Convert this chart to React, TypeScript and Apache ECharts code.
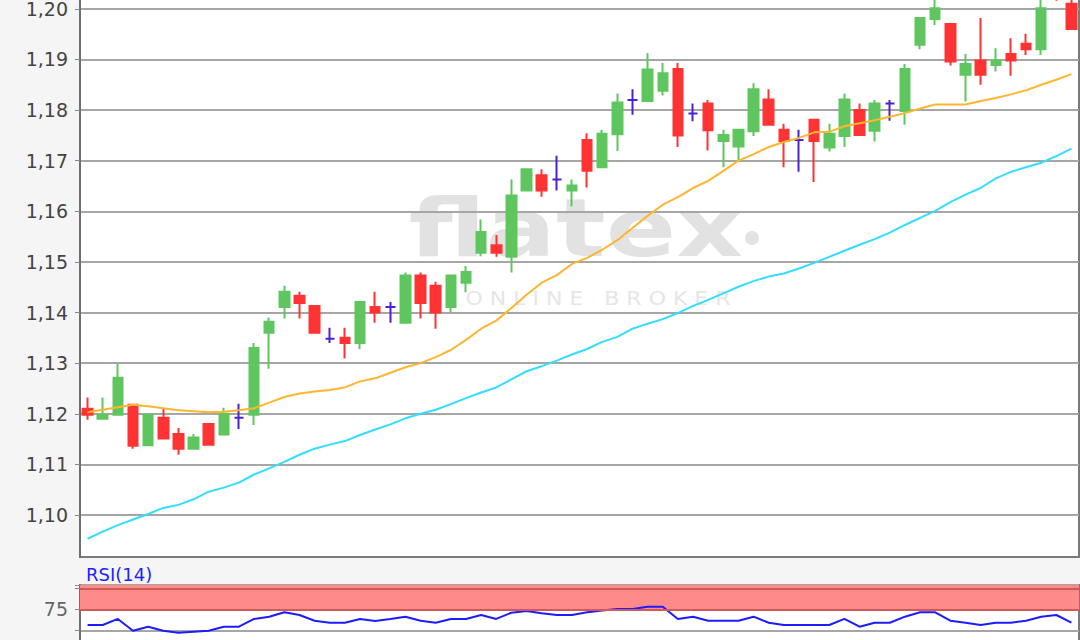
import React, { useEffect, useRef } from 'react';
import * as echarts from 'echarts';

const categories: string[] = Array.from({ length: 66 }, (_, i) => `T${i + 1}`);

const opens = [1.1210, 1.1190, 1.1198, 1.1218, 1.1138, 1.1192, 1.1160, 1.1131, 1.1180, 1.1159, 1.1192, 1.1198, 1.1360, 1.1411, 1.1433, 1.1413, 1.1348, 1.1350, 1.1340, 1.1411, 1.1411, 1.1380, 1.1473, 1.1453, 1.1411, 1.1459, 1.1518, 1.1533, 1.1510, 1.1641, 1.1671, 1.1663, 1.1641, 1.1741, 1.1687, 1.1752, 1.1820, 1.1818, 1.1838, 1.1881, 1.1793, 1.1813, 1.1739, 1.1728, 1.1758, 1.1821, 1.1761, 1.1741, 1.1781, 1.1726, 1.1749, 1.1800, 1.1759, 1.1813, 1.1798, 1.1929, 1.1980, 1.1970, 1.1870, 1.1898, 1.1889, 1.1911, 1.1931, 1.1920, 1.2045, 1.2010];
const closes = [1.1198, 1.1198, 1.1271, 1.1137, 1.1198, 1.1151, 1.1131, 1.1153, 1.1139, 1.1200, 1.1192, 1.1330, 1.1382, 1.1441, 1.1419, 1.1360, 1.1348, 1.1340, 1.1421, 1.1400, 1.1411, 1.1473, 1.1419, 1.1400, 1.1473, 1.1480, 1.1559, 1.1518, 1.1631, 1.1683, 1.1641, 1.1663, 1.1651, 1.1680, 1.1753, 1.1815, 1.1820, 1.1880, 1.1873, 1.1750, 1.1793, 1.1760, 1.1751, 1.1761, 1.1841, 1.1771, 1.1739, 1.1741, 1.1739, 1.1753, 1.1821, 1.1751, 1.1813, 1.1813, 1.1881, 1.1982, 1.2001, 1.1896, 1.1891, 1.1870, 1.1898, 1.1898, 1.1920, 1.2001, 1.2025, 1.1960];
const lows = [1.1188, 1.1189, 1.1198, 1.1131, 1.1138, 1.1151, 1.1119, 1.1131, 1.1139, 1.1159, 1.1170, 1.1178, 1.1289, 1.1388, 1.1388, 1.1360, 1.1340, 1.1309, 1.1328, 1.1380, 1.1380, 1.1380, 1.1388, 1.1368, 1.1400, 1.1440, 1.1511, 1.1510, 1.1479, 1.1641, 1.1629, 1.1641, 1.1610, 1.1647, 1.1687, 1.1719, 1.1791, 1.1818, 1.1829, 1.1727, 1.1778, 1.1720, 1.1687, 1.1700, 1.1749, 1.1771, 1.1687, 1.1678, 1.1658, 1.1718, 1.1727, 1.1751, 1.1738, 1.1779, 1.1771, 1.1920, 1.1968, 1.1888, 1.1817, 1.1850, 1.1876, 1.1868, 1.1909, 1.1909, 1.2016, 1.1960];
const highs = [1.1232, 1.1232, 1.1300, 1.1218, 1.1198, 1.1210, 1.1172, 1.1160, 1.1180, 1.1212, 1.1220, 1.1340, 1.1390, 1.1453, 1.1441, 1.1413, 1.1370, 1.1370, 1.1421, 1.1441, 1.1421, 1.1479, 1.1479, 1.1461, 1.1473, 1.1492, 1.1584, 1.1553, 1.1663, 1.1683, 1.1683, 1.1710, 1.1663, 1.1754, 1.1761, 1.1833, 1.1841, 1.1913, 1.1893, 1.1893, 1.1813, 1.1820, 1.1761, 1.1761, 1.1853, 1.1841, 1.1773, 1.1761, 1.1781, 1.1773, 1.1833, 1.1813, 1.1820, 1.1820, 1.1891, 1.1982, 1.2025, 1.1970, 1.1911, 1.1982, 1.1922, 1.1942, 1.1951, 1.2025, 1.2055, 1.2030];

const maShort = [1.1203, 1.1208, 1.1213, 1.1218, 1.1215, 1.1211, 1.1207, 1.1205, 1.1203, 1.1204, 1.1207, 1.1211, 1.1222, 1.1233, 1.1240, 1.1244, 1.1247, 1.1252, 1.1264, 1.1270, 1.1281, 1.1292, 1.1300, 1.1312, 1.1326, 1.1346, 1.1368, 1.1384, 1.1409, 1.1435, 1.1459, 1.1474, 1.1496, 1.1508, 1.1524, 1.1543, 1.1567, 1.1591, 1.1613, 1.1628, 1.1646, 1.1660, 1.1680, 1.1700, 1.1713, 1.1727, 1.1737, 1.1745, 1.1756, 1.1757, 1.1768, 1.1774, 1.1780, 1.1787, 1.1794, 1.1803, 1.1811, 1.1811, 1.1811, 1.1818, 1.1824, 1.1831, 1.1839, 1.1850, 1.1860, 1.1871];
const maLong = [1.0953, 1.0967, 1.0980, 1.0991, 1.1002, 1.1014, 1.1020, 1.1031, 1.1046, 1.1054, 1.1064, 1.1080, 1.1092, 1.1105, 1.1119, 1.1131, 1.1139, 1.1146, 1.1158, 1.1169, 1.1179, 1.1191, 1.1200, 1.1208, 1.1219, 1.1231, 1.1242, 1.1252, 1.1268, 1.1284, 1.1294, 1.1305, 1.1317, 1.1328, 1.1342, 1.1352, 1.1368, 1.1378, 1.1387, 1.1399, 1.1413, 1.1425, 1.1438, 1.1451, 1.1462, 1.1471, 1.1477, 1.1487, 1.1498, 1.1510, 1.1522, 1.1534, 1.1545, 1.1558, 1.1573, 1.1587, 1.1601, 1.1618, 1.1633, 1.1646, 1.1665, 1.1678, 1.1687, 1.1696, 1.1709, 1.1724];

const rsi = [56.3, 56.3, 63.5, 49.5, 54.3, 49.5, 47.1, 48.3, 49.5, 54.3, 54.3, 63.5, 66.2, 71.4, 68.2, 61.4, 59, 59, 63.5, 61.1, 63.5, 66.2, 61.4, 59, 63.5, 63.5, 68.2, 63.5, 71, 73, 70.2, 68.2, 68.2, 71.4, 73.6, 75.4, 75.4, 78.1, 78.1, 63.5, 66.2, 61.4, 61.4, 61.4, 66.2, 59, 56.3, 56.3, 56.3, 56.3, 63.5, 54.3, 59, 59, 66.2, 71.4, 71.4, 61.4, 59, 56.3, 59, 59, 61.4, 66.2, 68.2, 59];

const priceTicks = [1.10, 1.11, 1.12, 1.13, 1.14, 1.15, 1.16, 1.17, 1.18, 1.19, 1.20];
const rsiLabelTicks = [75];
const rsiZone = [75, 100];

// the chart box starts 20px above the page so that the price panel's top edge is cut off, as in the reference
const SHIFT = 20;

export default function App() {
  const ref = useRef<HTMLDivElement>(null);

  useEffect(() => {
    if (!ref.current) return;
    const chart = echarts.init(ref.current, null, { renderer: 'svg' });
    const candleData = opens.map((o, i) => [o, closes[i], lows[i], highs[i]]);
    const labelFont = 'DejaVu Sans';

    const option: any = {
      animation: false,
      backgroundColor: '#ffffff',
      title: {
        text: 'RSI(14)',
        left: 81,
        top: 560 + SHIFT,
        textStyle: { color: '#1f1fff', fontSize: 18, fontWeight: 'normal', fontFamily: labelFont },
      },
      graphic: [
        { type: 'rect', z: -10, silent: true, shape: { x: 0, y: 0, width: 80, height: 720 }, style: { fill: '#f5f5f5' } },
        { type: 'rect', z: -10, silent: true, shape: { x: 0, y: 557 + SHIFT, width: 1080, height: 28 }, style: { fill: '#f5f5f5' } },
        {
          type: 'text', z: -5, silent: true, x: 576, y: 228 + SHIFT, scaleX: 1.3,
          style: { text: 'flatex', font: 'bold 80px "DejaVu Sans"', fill: '#e2e2e2', textAlign: 'center', textVerticalAlign: 'middle', verticalAlign: 'middle' },
        },
        { type: 'circle', z: -5, silent: true, shape: { cx: 752, cy: 238 + SHIFT, r: 7 }, style: { fill: '#e2e2e2' } },
        {
          type: 'text', z: -5, silent: true, x: 598, y: 298 + SHIFT, scaleX: 1.1,
          style: { text: 'O N L I N E   B R O K E R', font: '20px "DejaVu Sans"', fill: '#e6e6e6', textAlign: 'center', textVerticalAlign: 'middle', verticalAlign: 'middle' },
        },
      ],
      grid: [
        { left: 80, right: 1, top: 0, height: 557 + SHIFT, show: true, borderColor: '#7a7a7a', borderWidth: 2, backgroundColor: 'transparent' },
        { left: 80, right: 1, top: 585 + SHIFT, height: 87.3, show: true, borderColor: '#7a7a7a', borderWidth: 2, backgroundColor: 'transparent' },
      ],
      xAxis: [
        {
          type: 'category', gridIndex: 0, data: categories, boundaryGap: true,
          axisLine: { show: false }, axisTick: { show: false }, axisLabel: { show: false }, splitLine: { show: false },
        },
        {
          type: 'category', gridIndex: 1, data: categories, boundaryGap: true,
          axisLine: { show: false }, axisTick: { show: false }, axisLabel: { show: false }, splitLine: { show: false },
        },
      ],
      yAxis: [
        {
          type: 'value', gridIndex: 0, min: 1.0917, max: 1.2057,
          axisLine: { show: true, lineStyle: { color: '#6e6e6e', width: 2 } },
          axisTick: { show: true, length: 5, customValues: priceTicks, lineStyle: { color: '#888' } },
          axisLabel: {
            customValues: priceTicks, color: '#444', fontSize: 19, fontFamily: labelFont, margin: 12,
            formatter: (v: number) => v.toFixed(2).replace('.', ','),
          },
          splitLine: { show: true, lineStyle: { color: '#a6a6a6', width: 2 } },
        },
        {
          type: 'value', gridIndex: 1, min: 0, max: 103.9, interval: 25,
          axisLine: { show: true, lineStyle: { color: '#6e6e6e', width: 2 } },
          axisTick: { show: true, length: 5, lineStyle: { color: '#888' } },
          axisLabel: {
            color: '#666', fontSize: 19, fontFamily: labelFont, margin: 12,
            formatter: (v: number) => (rsiLabelTicks.includes(v) ? String(v) : ''),
          },
          splitLine: { show: true, lineStyle: { color: '#a6a6a6', width: 2 } },
        },
      ],
      series: [
        {
          type: 'candlestick', name: 'Kurs', xAxisIndex: 0, yAxisIndex: 0, data: candleData, barWidth: 10,
          itemStyle: {
            color: '#5fc65f', color0: '#ff3333', borderColor: '#5fc65f', borderColor0: '#ff3333',
            borderColorDoji: '#4a22d4', borderWidth: 2,
          },
        },
        {
          type: 'line', name: 'MA kurz', xAxisIndex: 0, yAxisIndex: 0, data: maShort, symbol: 'none', showSymbol: false,
          lineStyle: { color: '#ffb52e', width: 2 },
        },
        {
          type: 'line', name: 'MA lang', xAxisIndex: 0, yAxisIndex: 0, data: maLong, symbol: 'none', showSymbol: false,
          lineStyle: { color: '#33ddff', width: 2 },
        },
        {
          type: 'line', name: 'RSI(14)', xAxisIndex: 1, yAxisIndex: 1, data: rsi, symbol: 'none', showSymbol: false,
          lineStyle: { color: '#1c1cff', width: 2 },
          markArea: {
            silent: true,
            itemStyle: { color: '#ff8a8a' },
            data: [[{ yAxis: rsiZone[0] }, { yAxis: 103.9 }]],
          },
          markLine: {
            silent: true, symbol: ['none', 'none'], label: { show: false },
            lineStyle: { color: '#d05a5a', width: 2, type: 'solid' },
            data: rsiZone.map((v) => ({ yAxis: v })),
          },
        },
      ],
    };
    chart.setOption(option);
    return () => chart.dispose();
  }, []);

  return <div ref={ref} style={{ position: 'fixed', left: 0, top: -SHIFT, width: 1080, height: 720 }} />;
}
